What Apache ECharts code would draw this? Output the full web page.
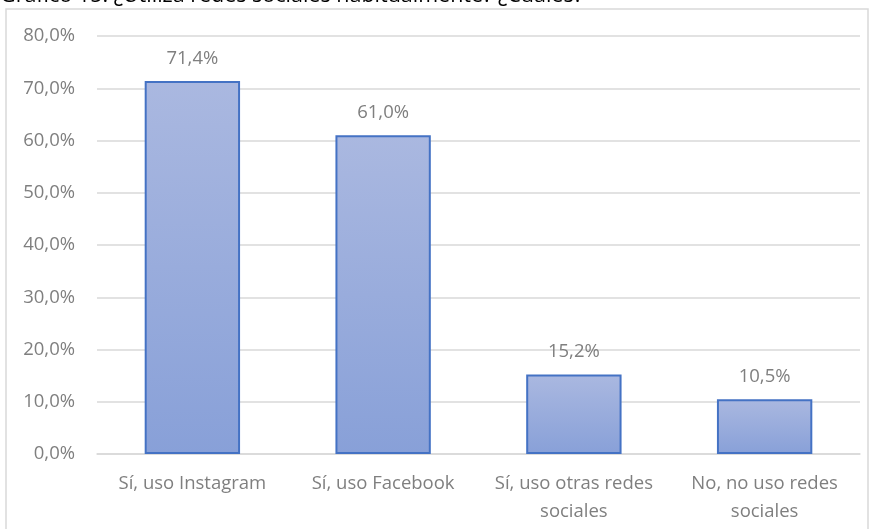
<!DOCTYPE html>
<html><head><meta charset="utf-8">
<script src="https://cdn.jsdelivr.net/npm/echarts@6/dist/echarts.min.js"></script>
<style>html,body{margin:0;padding:0;background:#fff}#c{width:873px;height:529px}</style>
</head><body><div id="c"></div>
<script>
const titleText = 'Gráfico 15. ¿Utiliza redes sociales habitualmente? ¿Cuáles?';
const categories = ['Sí, uso Instagram', 'Sí, uso Facebook', 'Sí, uso otras redes\nsociales', 'No, no uso redes\nsociales'];
const values = [71.4, 61.0, 15.2, 10.5];
const yMin = 0, yMax = 80, yStep = 10;

const fmt = v => v.toFixed(1).replace('.', ',') + '%';
const font = '"Open Sans", sans-serif';
const chart = echarts.init(document.getElementById('c'));
chart.setOption({
  animation: false,
  backgroundColor: '#fff',
  graphic: [
    { type: 'rect', shape: { x: 6, y: 9, width: 862, height: 540 }, style: { fill: 'none', stroke: '#d9d9d9', lineWidth: 1.5 }, z: -1 },
    { type: 'text', left: 0, top: -15, style: { text: titleText, fill: '#000', font: '21.5px ' + font } }
  ],
  grid: { left: 97, right: 13, top: 36, bottom: 75 },
  xAxis: {
    type: 'category', data: categories,
    axisLine: { lineStyle: { color: '#d9d9d9', width: 1.5 } },
    axisTick: { show: false },
    axisLabel: { color: '#7f7f7f', fontSize: 18.5, fontFamily: font, margin: 16, lineHeight: 28, interval: 0 }
  },
  yAxis: {
    type: 'value', min: yMin, max: yMax, interval: yStep,
    axisLine: { show: false }, axisTick: { show: false },
    splitLine: { lineStyle: { color: '#d9d9d9', width: 1.5 } },
    axisLabel: { color: '#7f7f7f', fontSize: 18.5, fontFamily: font, margin: 22, formatter: fmt }
  },
  series: [{
    type: 'bar', data: values, barWidth: '50%',
    itemStyle: {
      color: new echarts.graphic.LinearGradient(0, 0, 0, 1, [
        { offset: 0, color: '#aab8e0' }, { offset: 1, color: '#88a0d8' }
      ]),
      borderColor: '#4472c4', borderWidth: 2
    },
    label: { show: true, position: 'top', distance: 13, color: '#7f7f7f', fontSize: 18.5, fontFamily: font, formatter: p => fmt(p.value) }
  }]
});
</script></body></html>
